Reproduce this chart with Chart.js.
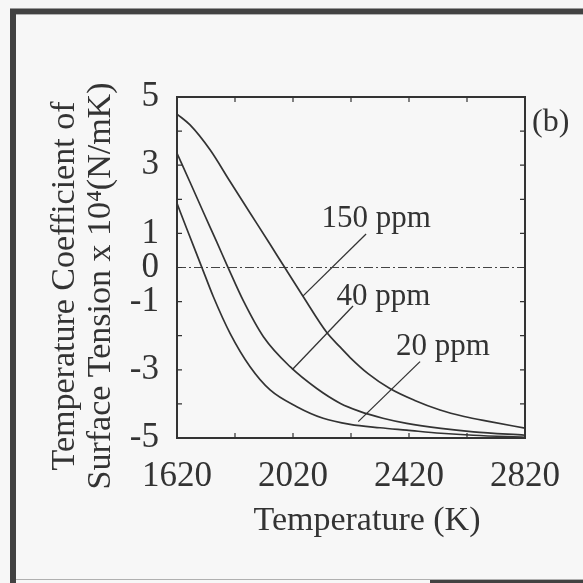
<!DOCTYPE html>
<html><head><meta charset="utf-8">
<script src="https://cdn.jsdelivr.net/npm/chart.js@4.4.0/dist/chart.umd.min.js"></script>
<style>html,body{margin:0;padding:0;background:#f7f7f7;}canvas{display:block;}</style>
</head><body><canvas id="c" width="583" height="583"></canvas>
<script>
// ---- data ----
const t150 = [1620,1665,1734,1803,1872,1941,1990,2055,2136,2182,2217,2280,2354,2440,2527,2610,2699,2820];
const v150 = [4.5,4.18,3.45,2.52,1.6,0.68,0.02,-0.85,-1.9,-2.33,-2.64,-3.12,-3.55,-3.9,-4.18,-4.37,-4.52,-4.71];
const t40 = [1620,1665,1711,1757,1795,1849,1918,2010,2102,2182,2250,2330,2412,2530,2642,2820];
const v40 = [3.35,2.5,1.62,0.75,0.02,-0.98,-2.03,-2.91,-3.55,-3.98,-4.22,-4.42,-4.57,-4.72,-4.82,-4.92];
const t20 = [1620,1653,1705,1745,1803,1872,1941,2033,2124,2217,2320,2412,2530,2642,2820];
const v20 = [1.88,1.15,0.02,-0.85,-1.93,-2.91,-3.59,-4.08,-4.42,-4.6,-4.7,-4.77,-4.86,-4.92,-4.98];
const zeroX = [1620,2820];
const zeroY = [0,0];
const leader150X = [2054,2272], leader150Y = [-0.84,0.98];
const leader40X = [2017,2227], leader40Y = [-3.0,-1.13];
const leader20X = [2245,2458], leader20Y = [-4.52,-2.76];
const labelTexts = ['150 ppm','40 ppm','20 ppm'];
const labelX = [2118,2170,2375];
const labelY = [1.19,-1.10,-2.57];
const xTickLabels = [1620,2020,2420,2820];
const yTickLabels = [5,3,1,0,-1,-3,-5];
const xTitle = 'Temperature (K)';
const yTitle = ['Temperature Coefficient of','Surface Tension x 10\u2074(N/mK)'];
const panelTag = '(b)';

const SERIF = '"Liberation Serif","Times New Roman",serif';
const INK = '#333';
const mk = (xs, ys) => xs.map((x, i) => ({x, y: ys[i]}));
const lineDs = (xs, ys, extra) => Object.assign({data: mk(xs, ys), borderColor: INK, borderWidth: 1.7,
  pointRadius: 0, fill: false, tension: 0}, extra || {});

const decor = {
  id: 'decor',
  beforeDraw(chart) {
    const ctx = chart.ctx;
    ctx.save();
    ctx.fillStyle = '#f7f7f7';
    ctx.fillRect(0, 0, chart.width, chart.height);
    ctx.fillStyle = '#9a9a9a';
    ctx.fillRect(10, 8, 573, 1);
    ctx.fillStyle = '#424242';
    ctx.fillRect(10, 9, 573, 5);
    ctx.fillRect(10, 9, 6, 574);
    ctx.fillStyle = '#b0b0b0';
    ctx.fillRect(16, 14, 567, 1);
    ctx.fillRect(16, 579, 567, 1);
    ctx.fillStyle = '#424242';
    ctx.fillRect(430, 580, 153, 3);
    ctx.restore();
  },
  afterDatasetsDraw(chart) {
    const {ctx, chartArea: a, scales: {x, y}} = chart;
    ctx.save();
    ctx.strokeStyle = INK;
    ctx.lineWidth = 2;
    ctx.strokeRect(a.left, a.top, a.right - a.left, a.bottom - a.top);
    ctx.lineWidth = 1.2;
    ctx.beginPath();
    for (let v = -4; v <= 4; v++) {
      const py = y.getPixelForValue(v);
      ctx.moveTo(a.left, py); ctx.lineTo(a.left + 5, py);
      ctx.moveTo(a.right, py); ctx.lineTo(a.right - 5, py);
    }
    for (let t = 1820; t <= 2620; t += 200) {
      const px = x.getPixelForValue(t);
      ctx.moveTo(px, a.top); ctx.lineTo(px, a.top + 5);
      ctx.moveTo(px, a.bottom); ctx.lineTo(px, a.bottom - 5);
    }
    ctx.stroke();
    ctx.fillStyle = INK;
    ctx.font = '31px ' + SERIF;
    ctx.textAlign = 'left';
    ctx.textBaseline = 'alphabetic';
    labelTexts.forEach((s, i) => ctx.fillText(s, x.getPixelForValue(labelX[i]), y.getPixelForValue(labelY[i])));
    ctx.font = '32px ' + SERIF;
    ctx.fillText(panelTag, a.right + 7, 131);
    ctx.font = '34px ' + SERIF;
    ctx.textAlign = 'center';
    ctx.fillText(xTitle, 367, 530);
    ctx.translate(0, 286);
    ctx.rotate(-Math.PI / 2);
    ctx.fillText(yTitle[0], 0, 74);
    ctx.fillText(yTitle[1], 0, 110);
    ctx.restore();
  }
};

new Chart(document.getElementById('c'), {
  type: 'line',
  data: {
    datasets: [
      lineDs(t150, v150, {cubicInterpolationMode: 'monotone'}),
      lineDs(t40, v40, {cubicInterpolationMode: 'monotone'}),
      lineDs(t20, v20, {cubicInterpolationMode: 'monotone'}),
      lineDs(zeroX, zeroY, {borderWidth: 1.2, borderDash: [9, 3, 2, 3], borderColor: '#444'}),
      lineDs(leader150X, leader150Y, {borderWidth: 1.3}),
      lineDs(leader40X, leader40Y, {borderWidth: 1.3}),
      lineDs(leader20X, leader20Y, {borderWidth: 1.3})
    ]
  },
  options: {
    responsive: false,
    animation: false,
    devicePixelRatio: 1,
    layout: {padding: {top: 97, right: 58, left: 0, bottom: 0}},
    plugins: {legend: {display: false}, tooltip: {enabled: false}},
    scales: {
      x: {
        type: 'linear', min: 1620, max: 2820,
        grid: {display: false},
        border: {display: true, color: INK, width: 2},
        ticks: {stepSize: 200, autoSkip: false, maxRotation: 0, padding: 10, color: INK,
          font: {family: SERIF, size: 35},
          callback: v => xTickLabels.includes(v) ? String(v) : ''},
        afterFit: s => { s.height = 145; }
      },
      y: {
        type: 'linear', min: -5, max: 5,
        grid: {display: false},
        border: {display: true, color: INK, width: 2},
        ticks: {stepSize: 1, autoSkip: false, padding: 10, color: INK,
          font: {family: SERIF, size: 35},
          callback: v => yTickLabels.includes(v) ? String(v) : ''},
        afterFit: s => { s.width = 177; }
      }
    }
  },
  plugins: [decor]
});
</script></body></html>
